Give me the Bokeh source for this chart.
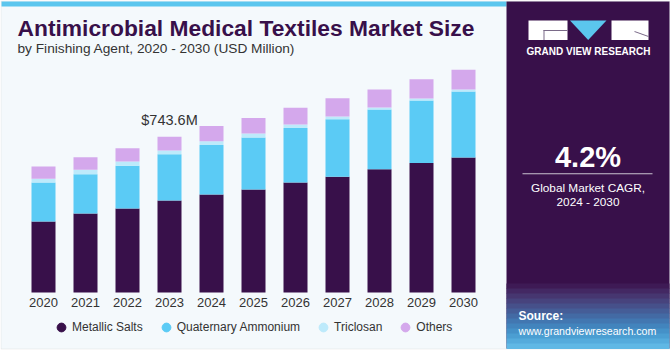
from bokeh.plotting import figure
from bokeh.models import (Range1d, Label, BoxAnnotation, PolyAnnotation, Legend,
                          LegendItem, ColumnDataSource)
from bokeh.embed import file_html
from bokeh.resources import INLINE
from bokeh.core.properties import value

# ---------------- data ----------------
years = [2020, 2021, 2022, 2023, 2024, 2025, 2026, 2027, 2028, 2029, 2030]
year_labels = [str(y) for y in years]
series = ["Metallic Salts", "Quaternary Ammonium", "Triclosan", "Others"]
metallic_salts = [339, 377, 401, 439.4, 468, 492, 525, 553, 589, 618, 645]
quaternary_ammonium = [186, 188, 204, 221.1, 237, 248, 261, 275, 285, 299, 315]
triclosan = [17.7, 21, 20.5, 17.7, 17.2, 19, 16, 13, 10, 10, 10]
others = [58.7, 60, 63.5, 65.4, 73.5, 75, 80, 87, 86, 91, 94]
highlight_year = 2023
cagr_text = "4.2%"

colors = ["#38104A", "#5BCBF5", "#BDEAFB", "#D4A8EC"]
TITLE_C = "#38104A"
PANEL_C = "#38104A"
TXT = "#333333"

# ---------------- layout ----------------
W, H = 670, 350
X0_PX, STEP_PX = 43.0, 42.0       # pixel centre of first bar, spacing
BASE_PX, UPP = 292.0, 4.776       # baseline pixel, units per pixel

x_range = Range1d(years[0] - X0_PX / STEP_PX, years[0] + (W - X0_PX) / STEP_PX)
y_range = Range1d(-(H - BASE_PX) * UPP, BASE_PX * UPP)

p = figure(width=W, height=H, x_range=x_range, y_range=y_range,
           output_backend="svg", toolbar_location=None, min_border=0,
           x_axis_location=None, y_axis_location=None,
           background_fill_color="white", border_fill_color="white",
           outline_line_color=None)
p.grid.visible = False


def Y(y):
    return H - y


def box(x0, x1, y0, y1, color, level="underlay", line_color=None, line_width=1):
    b = BoxAnnotation(left=x0, right=x1, top=Y(y0), bottom=Y(y1),
                      left_units="screen", right_units="screen",
                      top_units="screen", bottom_units="screen",
                      fill_color=color, fill_alpha=1, line_color=line_color,
                      line_width=line_width, level=level)
    p.add_layout(b)
    return b


# card background
box(0.5, 669.5, 0.5, 348.5, "#F4F9FC", line_color="#CFCFCF", line_width=1)
# top cyan stripe
box(1, 506, 1, 6, "#5BC6EE")
# dark panel
box(506, 669, 1, 348, PANEL_C)
# gradient at the bottom of the panel
grad = ["#3E1A55", "#432863", "#463670", "#47437D", "#46508A", "#455D97",
        "#436AA4", "#4277B1", "#4284BD", "#4591C8", "#4B9ED2", "#55ABDC",
        "#60B8E5"]
gy = 283.0
step = (348 - gy) / len(grad)
for i, c in enumerate(grad):
    box(506, 669, gy + i * step, gy + (i + 1) * step + 0.6, c)

# ---------------- bars ----------------
src = ColumnDataSource(dict(year=years, m=metallic_salts, q=quaternary_ammonium,
                            t=triclosan, o=others))
p.vbar_stack(["m", "q", "t", "o"], x="year", width=24 / STEP_PX, source=src,
             color=colors, line_color=None)

# year labels
p.text(x=years, y=[0] * len(years), text=year_labels, y_offset=10,
       text_align="center", text_baseline="middle", text_font=value("Liberation Sans"),
       text_font_size="13px", text_color=TXT)

# highlight label
hi = years.index(highlight_year)
total_hi = metallic_salts[hi] + quaternary_ammonium[hi] + triclosan[hi] + others[hi]
p.add_layout(Label(x=highlight_year, y=total_hi, y_offset=9, text=f"${total_hi:.1f}M",
                   text_align="center", text_baseline="bottom",
                   text_font="Liberation Sans", text_font_size="14.5px", text_color=TXT))

# ---------------- titles ----------------
p.add_layout(Label(x=17, y=Y(27.5), x_units="screen", y_units="screen",
                   text="Antimicrobial Medical Textiles Market Size",
                   text_font="Liberation Sans", text_font_style="bold",
                   text_font_size="22.8px", text_color=TITLE_C,
                   text_baseline="middle"))
p.add_layout(Label(x=17, y=Y(48), x_units="screen", y_units="screen",
                   text="by Finishing Agent, 2020 - 2030 (USD Million)",
                   text_font="Liberation Sans", text_font_size="13.7px",
                   text_color=TXT, text_baseline="middle"))

# ---------------- legend ----------------
nan = float("nan")
items = []
for name, c in zip(series, colors):
    r = p.scatter(x=[nan], y=[nan], marker="circle", size=9, fill_color=c, line_color=c)
    items.append(LegendItem(label=name, renderers=[r]))
legend = Legend(items=items, orientation="horizontal", location=(50, Y(338)),
                glyph_width=22, glyph_height=22, label_standoff=0, spacing=12,
                padding=0, margin=0, border_line_color=None,
                background_fill_alpha=0, label_text_font="Liberation Sans",
                label_text_font_size="12px", label_text_color=TXT)
p.add_layout(legend)

# ---------------- panel content ----------------
# logo
box(528, 567, 20, 39.5, "white", level="annotation")
box(611, 648, 20, 39.5, "white", level="annotation")
p.add_layout(PolyAnnotation(xs=[569.5, 606, 587.7], ys=[Y(20), Y(20), Y(39.5)],
                            xs_units="screen", ys_units="screen",
                            fill_color="#5BC6EE", fill_alpha=1, line_color=None))
box(543, 567, 29.5, 30.5, "#7A6A88", level="annotation")
box(543, 544, 29.5, 39.5, "#7A6A88", level="annotation")
p.add_layout(PolyAnnotation(xs=[634, 648, 648, 634], ys=[Y(30.5), Y(35.5), Y(36.5), Y(31.5)],
                            xs_units="screen", ys_units="screen",
                            fill_color="#7A6A88", fill_alpha=1, line_color=None))
p.add_layout(Label(x=588, y=Y(51), x_units="screen", y_units="screen",
                   text="GRAND VIEW RESEARCH", text_align="center",
                   text_baseline="middle", text_font="Liberation Sans",
                   text_font_style="bold", text_font_size="10px",
                   text_color="white"))

p.add_layout(Label(x=587.5, y=Y(156), x_units="screen", y_units="screen",
                   text=cagr_text, text_align="center", text_baseline="middle",
                   text_font="Liberation Sans", text_font_style="bold",
                   text_font_size="29px", text_color="white"))
box(522, 652, 172.8, 173.8, "#C9C2D0", level="annotation")
p.add_layout(Label(x=587.5, y=Y(187), x_units="screen", y_units="screen",
                   text="Global Market CAGR,", text_align="center",
                   text_baseline="middle", text_font="Liberation Sans",
                   text_font_size="11.8px", text_color="white"))
p.add_layout(Label(x=587.5, y=Y(201), x_units="screen", y_units="screen",
                   text="2024 - 2030", text_align="center",
                   text_baseline="middle", text_font="Liberation Sans",
                   text_font_size="11.8px", text_color="white"))
p.add_layout(Label(x=518, y=Y(315.5), x_units="screen", y_units="screen",
                   text="Source:", text_align="left", text_baseline="middle",
                   text_font="Liberation Sans", text_font_style="bold",
                   text_font_size="12px", text_color="white"))
p.add_layout(Label(x=518, y=Y(330), x_units="screen", y_units="screen",
                   text="www.grandviewresearch.com", text_align="left",
                   text_baseline="middle", text_font="Liberation Sans",
                   text_font_size="10.6px", text_color="white"))

open("out.html", "w").write(file_html(p, INLINE))
